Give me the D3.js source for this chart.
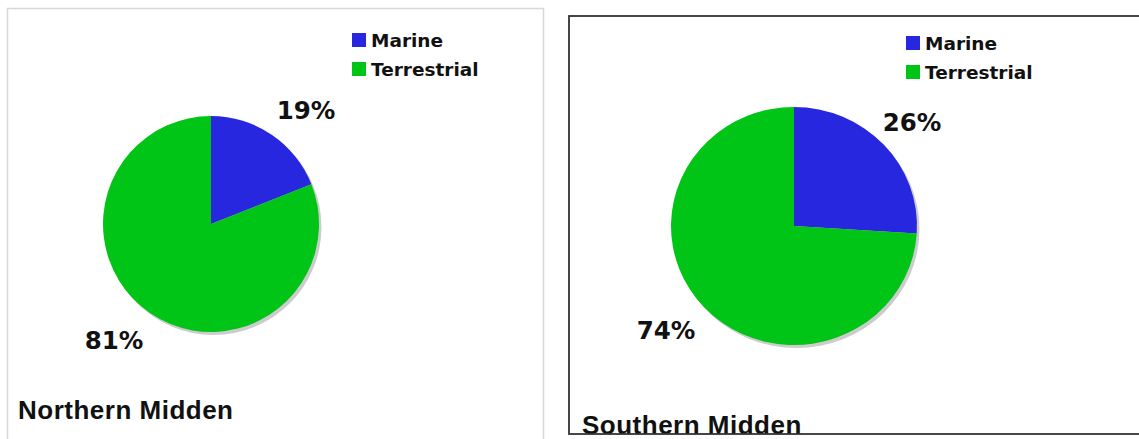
<!DOCTYPE html>
<html><head><meta charset="utf-8">
<script src="https://cdn.jsdelivr.net/npm/d3@7"></script>
<style>body{margin:0;background:#fff;}svg{display:block;}</style>
</head><body>
<svg id="c" width="1139" height="439"></svg>
<script>
const categories = ["Marine", "Terrestrial"];
const northernValues = [19, 81];
const southernValues = [26, 74];
const panelTitles = ["Northern Midden", "Southern Midden"];
const colors = ["#2727E0", "#00C416"];

const svg = d3.select("#c");
const color = d3.scaleOrdinal().domain(categories).range(colors);

const panels = [
  {values: northernValues, title: panelTitles[0], cx: 211, cy: 224, r: 108, sy: 1,
   legendX: 352, legendY: 33, titleX: 18, titleY: 419,
   labelPos: [[306, 110], [114, 340]],
   border: {x: 7.5, y: 8.5, w: 536, h: 460, stroke: "#d8d8d8", sw: 1.5}},
  {values: southernValues, title: panelTitles[1], cx: 794, cy: 226, r: 123, sy: 119 / 123,
   legendX: 906, legendY: 36, titleX: 582, titleY: 434,
   labelPos: [[912, 122], [666, 330]],
   border: {x: 569, y: 16, w: 600, h: 418, stroke: "#333", sw: 1.8}}
];

panels.forEach(p => {
  const g = svg.append("g");
  const data = categories.map((c, i) => ({cat: c, value: p.values[i]}));
  const pie = d3.pie().value(d => d.value).sort(null);
  const arc = d3.arc().innerRadius(0).outerRadius(p.r);
  const arcs = pie(data);
  // shadow
  g.append("ellipse").attr("cx", p.cx + 2.5).attr("cy", p.cy + 3)
    .attr("rx", p.r).attr("ry", p.r * p.sy).attr("fill", "#cccccc");
  const pg = g.append("g").attr("transform", `translate(${p.cx},${p.cy}) scale(1,${p.sy})`);
  pg.selectAll("path").data(arcs).join("path")
    .attr("d", arc).attr("fill", d => color(d.data.cat));
  // labels
  g.selectAll("text.pct").data(arcs).join("text").attr("class", "pct")
    .attr("x", (d, i) => p.labelPos[i][0]).attr("y", (d, i) => p.labelPos[i][1])
    .attr("text-anchor", "middle").attr("dominant-baseline", "central")
    .attr("font-family", "DejaVu Sans, Verdana, sans-serif").attr("font-weight", "bold")
    .attr("font-size", 24.5).attr("fill", "#111")
    .text(d => d.data.value + "%");
  // legend
  const lg = g.append("g").attr("transform", `translate(${p.legendX},${p.legendY})`);
  categories.forEach((c, i) => {
    lg.append("rect").attr("x", 0).attr("y", i * 29).attr("width", 14).attr("height", 14)
      .attr("fill", color(c));
    lg.append("text").attr("x", 19).attr("y", i * 29 + 14)
      .attr("font-family", "DejaVu Sans, Verdana, sans-serif").attr("font-weight", "bold")
      .attr("font-size", 18.5).attr("fill", "#111").text(c);
  });
  // title
  g.append("text").attr("x", p.titleX).attr("y", p.titleY)
    .attr("font-family", "Liberation Sans, Arial, sans-serif").attr("font-weight", "bold")
    .attr("font-size", 26).attr("letter-spacing", 0.5).attr("fill", "#111").text(p.title);
  // border
  g.append("rect").attr("x", p.border.x).attr("y", p.border.y)
    .attr("width", p.border.w).attr("height", p.border.h)
    .attr("fill", "none").attr("stroke", p.border.stroke).attr("stroke-width", p.border.sw);
});
</script>
</body></html>
